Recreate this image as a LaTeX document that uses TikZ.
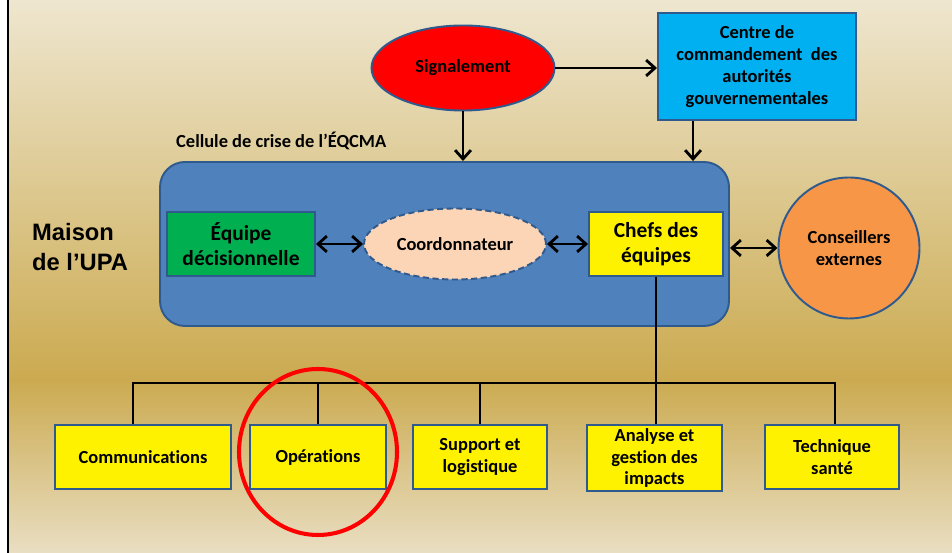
\documentclass[tikz,border=0pt]{standalone}
\usepackage{fontspec}
\setmainfont{Carlito}[Ligatures=NoCommon]
\newfontfamily\arialfont{Liberation Sans}
\usetikzlibrary{shapes.geometric,arrows.meta}

\definecolor{edgeblue}{HTML}{2F5A8E}
\definecolor{cellblue}{HTML}{4F81BD}
\definecolor{skyblue}{HTML}{00B0F0}
\definecolor{teamgreen}{HTML}{00B050}
\definecolor{peach}{HTML}{FBD5B5}
\definecolor{advorange}{HTML}{F79646}
\definecolor{cream}{HTML}{EEE6CF}
\definecolor{gold}{HTML}{CBAA50}
\definecolor{sand}{HTML}{E9DEC2}

\tikzset{
  box/.style={draw=edgeblue, line width=1.1pt, align=center, inner sep=1pt,
    font=\bfseries\fontsize{10.5}{12.5}\selectfont},
  unit/.style={box, fill=yellow, minimum width=2.68cm, minimum height=1.28cm},
  bigtext/.style={font=\bfseries\fontsize{12.2}{14.2}\selectfont},
  link/.style={line width=1.6pt},
}

\begin{document}
\begin{tikzpicture}[>={Straight Barb[length=5pt,width=9pt]}]
    % background
    \useasboundingbox (0,0) rectangle (19.04,11.06);
    \shade[top color=cream, bottom color=gold] (0.18,3.46) rectangle (19.04,11.06);
    \shade[top color=gold, bottom color=sand] (0.18,0) rectangle (19.04,3.46);
    \draw[line width=1.2pt] (0.16,0) -- (0.16,11.06);

    % top
    \node[box, ellipse, fill=red, minimum width=3.66cm, minimum height=1.70cm] (sig) at (9.26,9.70) {Signalement};
    \node[box, fill=skyblue, minimum width=3.96cm, minimum height=2.14cm] (centre) at (15.14,9.73) {Centre de\\commandement\ \ des\\autorités\\gouvernementales};

    % crisis cell
    \node[box, rounded corners=0.5cm, fill=cellblue, minimum width=11.38cm, minimum height=3.28cm] (cell) at (8.89,6.18) {};
    \node[font=\bfseries\fontsize{10.5}{12.5}\selectfont, anchor=west] (celltitle) at (3.40,8.24) {Cellule de crise de l’ÉQCMA};
    \node[box, bigtext, fill=teamgreen, minimum width=2.96cm, minimum height=1.28cm] (equipe) at (4.82,6.18) {Équipe\\décisionnelle};
    \node[box, ellipse, dash pattern=on 3.5pt off 2pt, fill=peach, minimum width=3.64cm, minimum height=1.42cm] (coord) at (9.10,6.18) {Coordonnateur};
    \node[unit, bigtext] (chefs) at (13.12,6.18) {Chefs des\\équipes};
    \node[box, circle, fill=advorange, minimum size=2.82cm] (cons) at (16.98,6.10) {Conseillers\\externes};
    \node[font=\arialfont\bfseries\fontsize{13.5}{17}\selectfont, align=left, anchor=west] (maison) at (0.52,6.12) {Maison\\de l’UPA};

    % bottom units
    \node[unit, minimum width=3.52cm] (comm) at (2.86,1.92) {Communications};
    \node[unit, minimum width=2.72cm] (oper) at (6.36,1.92) {Opérations};
    \node[unit] (supp) at (9.60,1.92) {Support et\\logistique};
    \node[unit, minimum width=2.70cm, minimum height=1.32cm, inner sep=0pt] (ana) at (13.09,1.90) {Analyse et\\gestion des\\impacts};
    \node[unit] (tech) at (16.64,1.92) {Technique\\santé};

    % arrows
    \draw[link,->] (sig.east) -- (sig.east -| centre.west);
    \draw[link,->] (sig.south) -- (sig.south |- cell.north);
    \coordinate (cdrop) at ([xshift=0.72cm]centre.south west);
    \draw[link,->] (cdrop) -- (cdrop |- cell.north);
    \draw[link,<->] (equipe) -- (coord);
    \draw[link,<->] (coord) -- (chefs);
    \draw[link,<->] (cons.west -| cell.east) -- (cons.west);

    % tree
    \coordinate (bus) at (0,3.40);
    \draw[link] (chefs.south) -- (chefs.south |- ana.north);
    \coordinate (commtop) at ([xshift=-0.2cm]comm.north);
    \coordinate (techtop) at ([xshift=0.06cm]tech.north);
    \draw[link] (commtop) -- (commtop |- bus) -- (techtop |- bus) -- (techtop);
    \foreach \n in {oper,supp} \draw[link] (\n.north) -- (\n.north |- bus);

    % highlight
    \draw[red, line width=2.3pt] (6.36,2.02) ellipse [x radius=1.58, y radius=1.66];
\end{tikzpicture}
\end{document}
